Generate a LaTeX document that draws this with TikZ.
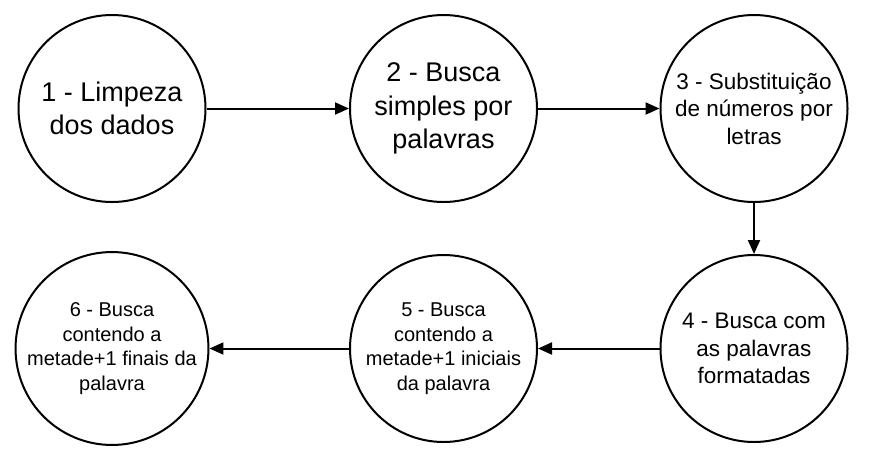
\documentclass[tikz,border=0pt]{standalone}
\usepackage{fontspec}
\setmainfont{Liberation Sans}
\usetikzlibrary{arrows.meta}
\begin{document}
\begin{tikzpicture}[x=1pt,y=-1pt,
  stage/.style={circle,draw=black,line width=2pt,minimum size=187pt,inner sep=0pt,align=center,text=black},
  bigtxt/.style={font=\fontsize{27}{33.5}\selectfont},
  midtxt/.style={font=\fontsize{22.5}{27.5}\selectfont},
  smalltxt/.style={font=\fontsize{20}{24.6}\selectfont},
  flow/.style={draw=black,line width=2pt,-{Triangle[length=14pt,width=12pt]}}]
\useasboundingbox[fill=white] (0,0) rectangle (872,456);
\node[stage,bigtxt] (s1) at (112,108.5) {1 - Limpeza\\dos dados};
\node[stage,bigtxt] (s2) at (443.5,108.5) {2 - Busca\\simples por\\palavras};
\node[stage,midtxt] (s3) at (754,108.5) {3 - Substituição\\de números por\\letras};
\node[stage,midtxt] (s4) at (754,348.5) {4 - Busca com\\as palavras\\formatadas};
\node[stage,smalltxt] (s5) at (443.5,348.5) {5 - Busca\\contendo a\\metade+1 iniciais\\da palavra};
\node[stage,smalltxt] (s6) at (112,348.5) {6 - Busca\\contendo a\\metade+1 finais da\\palavra};
\draw[flow] (s1) -- (s2);
\draw[flow] (s2) -- (s3);
\draw[flow] (s3) -- (s4);
\draw[flow] (s4) -- (s5);
\draw[flow] (s5) -- (s6);
\end{tikzpicture}
\end{document}
